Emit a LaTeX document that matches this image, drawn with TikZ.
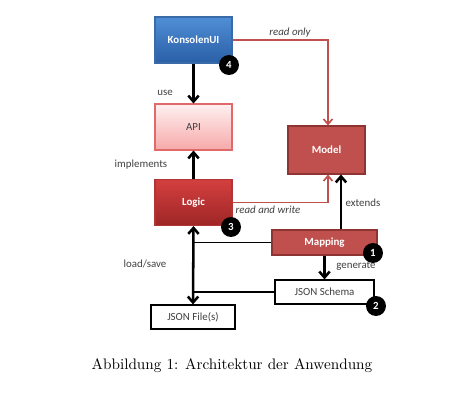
\documentclass[tikz,border=0pt]{standalone}
\usepackage{fontspec}
\newfontfamily\carl{Carlito}
\usetikzlibrary{arrows.meta,calc}
\definecolor{blueT}{HTML}{4F8ED6}
\definecolor{blueB}{HTML}{2A5FA6}
\definecolor{blueD}{HTML}{3A6AA8}
\definecolor{pinkT}{HTML}{FFF0F0}
\definecolor{pinkB}{HTML}{F7A9A9}
\definecolor{pinkD}{HTML}{E06A6A}
\definecolor{redT}{HTML}{D43F3F}
\definecolor{redB}{HTML}{9E2626}
\definecolor{redD}{HTML}{B03535}
\definecolor{modelF}{HTML}{C0504D}
\definecolor{modelD}{HTML}{8E3533}
\definecolor{txt}{HTML}{404040}
\begin{document}
\begin{tikzpicture}[x=0.67pt,y=-0.67pt,
  box/.style={draw,line width=0.7pt,minimum width=77*0.67pt,minimum height=46*0.67pt,inner sep=0pt,font=\carl\fontsize{7.3}{8}\selectfont},
  wbox/.style={draw=black,line width=0.8pt,fill=white,inner sep=0pt,font=\carl\fontsize{7.3}{8}\selectfont,text=txt},
  badge/.style={circle,fill=black,text=white,inner sep=0pt,minimum size=20*0.67pt,font=\carl\bfseries\fontsize{7.3}{8}\selectfont},
  lbl/.style={font=\carl\fontsize{7.3}{8}\selectfont,text=txt,inner sep=1pt},
  ilbl/.style={font=\carl\itshape\fontsize{7.3}{8}\selectfont,text=txt,inner sep=1pt},
  blk/.style={line width=1.7pt,-{Straight Barb[length=4pt,width=7pt]}},
  thin/.style={line width=0.9pt},
  redl/.style={draw=modelF,line width=1.1pt,-{Straight Barb[length=3.5pt,width=6pt]}}
]
\useasboundingbox (0,0) rectangle (469,415);
% nodes
\node[box,top color=blueT,bottom color=blueB,draw=blueD,text=white,font=\carl\bfseries\fontsize{7.3}{8}\selectfont] (ku) at (193.5,40) {KonsolenUI};
\node[box,top color=pinkT,bottom color=pinkB,draw=pinkD,text=txt] (api) at (193.5,127) {API};
\node[box,top color=redT,bottom color=redB,draw=redD,text=white,font=\carl\bfseries\fontsize{7.3}{8}\selectfont] (logic) at (193.5,202.5) {Logic};
\node[box,fill=modelF,draw=modelD,text=white,font=\carl\bfseries\fontsize{7.3}{8}\selectfont,minimum height=48*0.67pt] (model) at (326.5,150) {Model};
\node[box,fill=modelF,draw=modelD,text=white,font=\carl\bfseries\fontsize{7.3}{8}\selectfont,minimum width=105*0.67pt,minimum height=25*0.67pt] (mapping) at (324.5,242.5) {Mapping};
\node[wbox,minimum width=99*0.67pt,minimum height=24*0.67pt] (schema) at (324.5,292) {JSON Schema};
\node[wbox,minimum width=84*0.67pt,minimum height=24*0.67pt] (file) at (193,317) {JSON File(s)};
\coordinate (ex) at (341,0);
% connectors
\draw[blk] (ku.south) -- (api.north);
\draw[blk] (logic.north) -- (api.south);
\draw[redl] (ku.east) -| ([xshift=1.5*0.67pt]model.north);
\draw[redl] (logic.east) -| ([xshift=1.5*0.67pt]model.south);
\draw[blk] (mapping.north -| ex) -- (model.south -| ex);
\draw[blk] (mapping.south) -- (schema.north);
\draw[line width=1.7pt,{Straight Barb[length=4pt,width=7pt]}-{Straight Barb[length=4pt,width=7pt]}] (logic.south) -- (file.north);
\draw[thin] (mapping.west) -- (mapping.west -| logic.south);
\draw[thin] (schema.west) -- (schema.west -| logic.south);
% labels
\node[lbl] at (165,93) {use};
\node[lbl] at (141,165) {implements};
\node[ilbl] at (290,33) {read only};
\node[ilbl] at (268,210) {read and write};
\node[lbl] at (363,203) {extends};
\node[lbl] at (356,266) {generate};
\node[lbl] at (145,264) {load/save};
% badges
\node[badge] (b4) at (229,65) {4};
\node[badge] (b3) at (231,227) {3};
\node[badge] (b1) at (373,253) {1};
\node[badge] (b2) at (376,306) {2};
% caption
\node[font=\fontsize{10.2}{12}\selectfont,inner sep=0pt] (cap) at (232,366) {Abbildung 1: Architektur der Anwendung};
\end{tikzpicture}
\end{document}
